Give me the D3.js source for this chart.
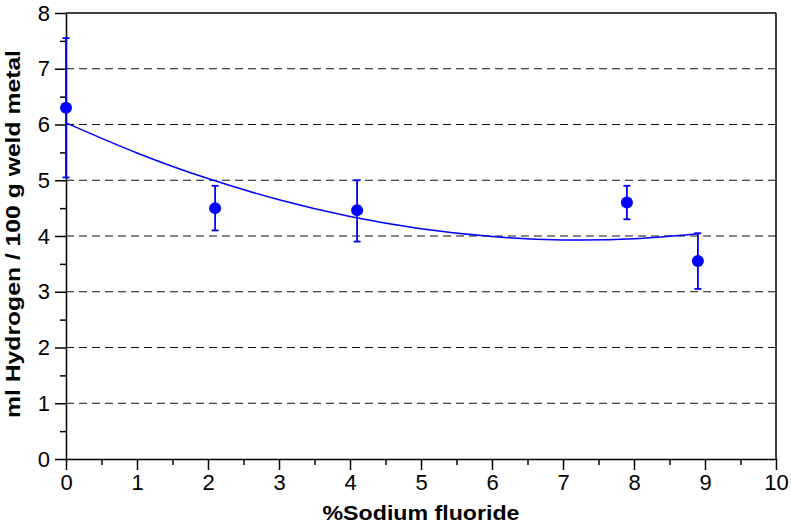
<!DOCTYPE html>
<html>
<head>
<meta charset="utf-8">
<script src="https://cdn.jsdelivr.net/npm/d3@7"></script>
<style>
  body { margin: 0; background: #fff; }
  text { font-family: "Liberation Sans", Arial, sans-serif; }
</style>
</head>
<body>
<div id="chart"></div>
<script>
// measured points (% NaF vs ml H / 100 g weld metal)
var naf = [0, 2.1, 4.1, 7.9, 8.9];
var hydrogen = [6.3, 4.5, 4.46, 4.6, 3.55];
var errLow = [5.05, 4.1, 3.9, 4.3, 3.05];
var errHigh = [7.55, 4.9, 5.0, 4.9, 4.05];

// fitted curve
var fitX = [0, 1, 2, 3, 4, 5, 6, 7, 8, 8.9];
var fitY = [6.03, 5.49, 5.03, 4.65, 4.35, 4.13, 3.99, 3.93, 3.95, 4.04];

var xTicks = [0, 1, 2, 3, 4, 5, 6, 7, 8, 9, 10];
var yTicks = [0, 1, 2, 3, 4, 5, 6, 7, 8];
var gridY = [1, 2, 3, 4, 5, 6, 7];

var margin = {top: 13, right: 15, bottom: 66, left: 66},
    width = 791 - margin.left - margin.right,
    height = 525 - margin.top - margin.bottom;

var svg = d3.select("#chart")
  .append("svg")
    .attr("width", 791)
    .attr("height", 525)
  .append("g")
    .attr("transform", "translate(" + margin.left + "," + margin.top + ")");

var x = d3.scaleLinear().domain([0, 10]).range([0, width]);
var y = d3.scaleLinear().domain([0, 8]).range([height, 0]);

// dashed gridlines
svg.selectAll(".grid")
  .data(gridY)
  .enter()
  .append("line")
    .attr("x1", 0)
    .attr("x2", width)
    .attr("y1", function(d) { return y(d); })
    .attr("y2", function(d) { return y(d); })
    .attr("stroke", "#111")
    .attr("stroke-width", 1)
    .attr("stroke-dasharray", "8,5");

// frame top + right
svg.append("line")
  .attr("x1", 0).attr("x2", width)
  .attr("y1", 0).attr("y2", 0)
  .attr("stroke", "#000").attr("stroke-width", 1.5);
svg.append("line")
  .attr("x1", width).attr("x2", width)
  .attr("y1", 0).attr("y2", height)
  .attr("stroke", "#000").attr("stroke-width", 1.5);

// minor ticks
var xMinor = d3.range(0.5, 10, 1);
var yMinor = d3.range(0.5, 8, 1);
svg.append("g")
  .attr("transform", "translate(0," + height + ")")
  .call(d3.axisBottom(x).tickValues(xMinor).tickSize(6).tickFormat(""))
  .call(function(g) { g.select(".domain").remove(); })
  .selectAll("line").attr("stroke-width", 1.5);
svg.append("g")
  .call(d3.axisLeft(y).tickValues(yMinor).tickSize(6).tickFormat(""))
  .call(function(g) { g.select(".domain").remove(); })
  .selectAll("line").attr("stroke-width", 1.5);

// X axis
var xAxis = svg.append("g")
  .attr("transform", "translate(0," + height + ")")
  .call(d3.axisBottom(x).tickValues(xTicks).tickSize(11).tickSizeOuter(0).tickPadding(4));
xAxis.select(".domain").attr("stroke-width", 1.5);
xAxis.selectAll("line").attr("stroke-width", 1.5);
xAxis.selectAll("text")
  .style("font-size", "22px")
  .style("font-family", "Liberation Sans, Arial, sans-serif")
  .attr("fill", "#000");

// Y axis
var yAxis = svg.append("g")
  .call(d3.axisLeft(y).tickValues(yTicks).tickSize(11).tickSizeOuter(0).tickPadding(5));
yAxis.select(".domain").attr("stroke-width", 1.5);
yAxis.selectAll("line").attr("stroke-width", 1.5);
yAxis.selectAll("text")
  .style("font-size", "22px")
  .style("font-family", "Liberation Sans, Arial, sans-serif")
  .attr("fill", "#000");

// axis titles
svg.append("text")
  .attr("x", x(5))
  .attr("y", height + 61)
  .attr("text-anchor", "middle")
  .attr("textLength", 197)
  .attr("lengthAdjust", "spacingAndGlyphs")
  .style("font-size", "21px")
  .style("font-weight", "bold")
  .text("%Sodium fluoride");

svg.append("text")
  .attr("transform", "translate(" + (20 - margin.left) + "," + (234 - margin.top) + ")rotate(-90)")
  .attr("text-anchor", "middle")
  .attr("textLength", 368)
  .attr("lengthAdjust", "spacingAndGlyphs")
  .style("font-size", "21px")
  .style("font-weight", "bold")
  .text("ml Hydrogen / 100 g weld metal");

// fitted curve
var fit = fitX.map(function(d, i) { return {x: d, y: fitY[i]}; });
svg.append("path")
  .datum(fit)
  .attr("fill", "none")
  .attr("stroke", "#0000ff")
  .attr("stroke-width", 1.5)
  .attr("d", d3.line()
    .x(function(d) { return x(d.x); })
    .y(function(d) { return y(d.y); })
    .curve(d3.curveNatural));

// points + error bars
var pts = naf.map(function(d, i) {
  return {x: d, y: hydrogen[i], lo: errLow[i], hi: errHigh[i]};
});

var eb = svg.selectAll(".eb")
  .data(pts)
  .enter()
  .append("g");

eb.append("line")
  .attr("x1", function(d) { return x(d.x); })
  .attr("x2", function(d) { return x(d.x); })
  .attr("y1", function(d) { return y(d.lo); })
  .attr("y2", function(d) { return y(d.hi); })
  .attr("stroke", "#0000ff")
  .attr("stroke-width", 1.8);

eb.selectAll(".cap")
  .data(function(d) { return [{x: d.x, v: d.lo}, {x: d.x, v: d.hi}]; })
  .enter()
  .append("line")
    .attr("x1", function(d) { return x(d.x) - 3.5; })
    .attr("x2", function(d) { return x(d.x) + 3.5; })
    .attr("y1", function(d) { return y(d.v); })
    .attr("y2", function(d) { return y(d.v); })
    .attr("stroke", "#0000ff")
    .attr("stroke-width", 1.8);

svg.selectAll(".dot")
  .data(pts)
  .enter()
  .append("circle")
    .attr("cx", function(d) { return x(d.x); })
    .attr("cy", function(d) { return y(d.y); })
    .attr("r", 6)
    .attr("fill", "#0000ff");
</script>
</body>
</html>
